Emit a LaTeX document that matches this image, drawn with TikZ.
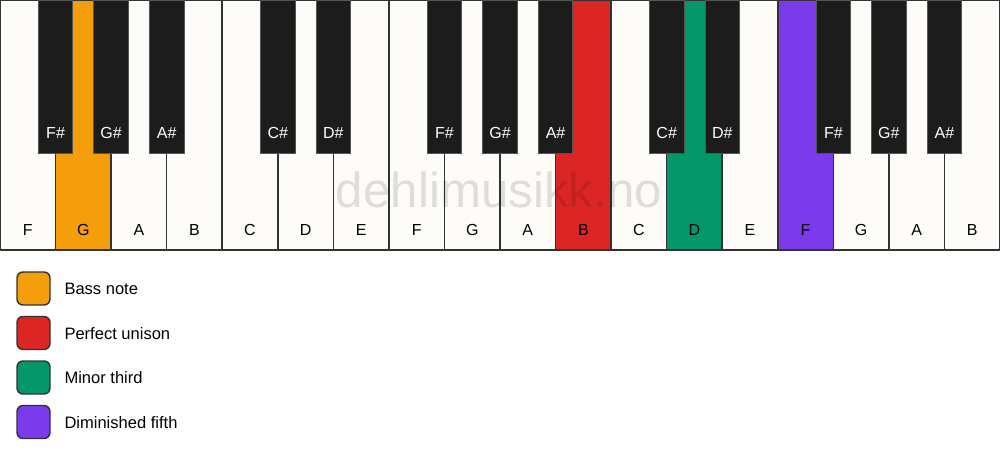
\documentclass[tikz,border=0pt]{standalone}
\usepackage{fontspec}
\setmainfont{Liberation Sans}

\definecolor{keywhite}{HTML}{FEFCF8}
\definecolor{keyblack}{HTML}{1C1C1C}
\definecolor{keyline}{HTML}{333333}
\definecolor{blackedge}{HTML}{555555}
\definecolor{bassnote}{HTML}{F59E0B}
\definecolor{unison}{HTML}{DC2626}
\definecolor{minthird}{HTML}{059669}
\definecolor{dimfifth}{HTML}{7C3AED}

\tikzset{every picture/.style={line width=0.75pt}}
\tikzset{
  whitekey/.style={draw=keyline, fill=keywhite, line width=1.1pt},
  blackkey/.style={draw=blackedge, fill=keyblack, line width=0.6pt},
  whitelabel/.style={inner sep=0.75pt, font=\fontsize{12}{14}\selectfont, text=black},
  blacklabel/.style={inner sep=0.75pt, font=\fontsize{12}{14}\selectfont, text=white},
  legendbox/.style={draw=keyline, line width=1.1pt, rounded corners=4.5pt},
  legendtext/.style={anchor=west, inner sep=0.75pt, font=\fontsize{12.4}{15}\selectfont}
}

\begin{document}
\begin{tikzpicture}[x=0.75pt,y=0.75pt,yscale=-1,xscale=1]
\path [use as bounding box, fill=white] (0,0) rectangle (1000,461);

%White keys
\draw [whitekey] (0,0) -- (55.56,0) -- (55.56,250) -- (0,250) -- cycle ;
\draw [whitekey, fill=bassnote] (55.56,0) -- (111.11,0) -- (111.11,250) -- (55.56,250) -- cycle ;
\draw [whitekey] (111.11,0) -- (166.67,0) -- (166.67,250) -- (111.11,250) -- cycle ;
\draw [whitekey] (166.67,0) -- (222.22,0) -- (222.22,250) -- (166.67,250) -- cycle ;
\draw [whitekey] (222.22,0) -- (277.78,0) -- (277.78,250) -- (222.22,250) -- cycle ;
\draw [whitekey] (277.78,0) -- (333.33,0) -- (333.33,250) -- (277.78,250) -- cycle ;
\draw [whitekey] (333.33,0) -- (388.89,0) -- (388.89,250) -- (333.33,250) -- cycle ;
\draw [whitekey] (388.89,0) -- (444.44,0) -- (444.44,250) -- (388.89,250) -- cycle ;
\draw [whitekey] (444.44,0) -- (500,0) -- (500,250) -- (444.44,250) -- cycle ;
\draw [whitekey] (500,0) -- (555.56,0) -- (555.56,250) -- (500,250) -- cycle ;
\draw [whitekey, fill=unison] (555.56,0) -- (611.11,0) -- (611.11,250) -- (555.56,250) -- cycle ;
\draw [whitekey] (611.11,0) -- (666.67,0) -- (666.67,250) -- (611.11,250) -- cycle ;
\draw [whitekey, fill=minthird] (666.67,0) -- (722.22,0) -- (722.22,250) -- (666.67,250) -- cycle ;
\draw [whitekey] (722.22,0) -- (777.78,0) -- (777.78,250) -- (722.22,250) -- cycle ;
\draw [whitekey, fill=dimfifth] (777.78,0) -- (833.33,0) -- (833.33,250) -- (777.78,250) -- cycle ;
\draw [whitekey] (833.33,0) -- (888.89,0) -- (888.89,250) -- (833.33,250) -- cycle ;
\draw [whitekey] (888.89,0) -- (944.44,0) -- (944.44,250) -- (888.89,250) -- cycle ;
\draw [whitekey] (944.44,0) -- (1000,0) -- (1000,250) -- (944.44,250) -- cycle ;

% Watermark
\draw (499,207) node [anchor=base, inner sep=0pt, text=black, text opacity=0.12, font=\fontsize{37}{40}\selectfont] (mark) {dehlimusikk.no};

%Black keys
\draw [blackkey] (38.26,0) -- (72.86,0) -- (72.86,153) -- (38.26,153) -- cycle ;
\draw [blackkey] (93.81,0) -- (128.41,0) -- (128.41,153) -- (93.81,153) -- cycle ;
\draw [blackkey] (149.37,0) -- (183.97,0) -- (183.97,153) -- (149.37,153) -- cycle ;
\draw [blackkey] (260.48,0) -- (295.08,0) -- (295.08,153) -- (260.48,153) -- cycle ;
\draw [blackkey] (316.03,0) -- (350.63,0) -- (350.63,153) -- (316.03,153) -- cycle ;
\draw [blackkey] (427.14,0) -- (461.74,0) -- (461.74,153) -- (427.14,153) -- cycle ;
\draw [blackkey] (482.70,0) -- (517.30,0) -- (517.30,153) -- (482.70,153) -- cycle ;
\draw [blackkey] (538.26,0) -- (572.86,0) -- (572.86,153) -- (538.26,153) -- cycle ;
\draw [blackkey] (649.37,0) -- (683.97,0) -- (683.97,153) -- (649.37,153) -- cycle ;
\draw [blackkey] (704.92,0) -- (739.52,0) -- (739.52,153) -- (704.92,153) -- cycle ;
\draw [blackkey] (816.03,0) -- (850.63,0) -- (850.63,153) -- (816.03,153) -- cycle ;
\draw [blackkey] (871.59,0) -- (906.19,0) -- (906.19,153) -- (871.59,153) -- cycle ;
\draw [blackkey] (927.14,0) -- (961.74,0) -- (961.74,153) -- (927.14,153) -- cycle ;

% Text Node
\draw (27.78,230) node [whitelabel] (wF1) {F};
\draw (83.33,230) node [whitelabel] (wG1) {G};
\draw (138.89,230) node [whitelabel] (wA1) {A};
\draw (194.44,230) node [whitelabel] (wB1) {B};
\draw (250,230) node [whitelabel] (wC1) {C};
\draw (305.56,230) node [whitelabel] (wD1) {D};
\draw (361.11,230) node [whitelabel] (wE1) {E};
\draw (416.67,230) node [whitelabel] (wF2) {F};
\draw (472.22,230) node [whitelabel] (wG2) {G};
\draw (527.78,230) node [whitelabel] (wA2) {A};
\draw (583.33,230) node [whitelabel] (wB2) {B};
\draw (638.89,230) node [whitelabel] (wC2) {C};
\draw (694.44,230) node [whitelabel] (wD2) {D};
\draw (750,230) node [whitelabel] (wE2) {E};
\draw (805.56,230) node [whitelabel] (wF3) {F};
\draw (861.11,230) node [whitelabel] (wG3) {G};
\draw (916.67,230) node [whitelabel] (wA3) {A};
\draw (972.22,230) node [whitelabel] (wB3) {B};
% Text Node
\draw (55.56,133) node [blacklabel] (bFs1) {F\#};
\draw (111.11,133) node [blacklabel] (bGs1) {G\#};
\draw (166.67,133) node [blacklabel] (bAs1) {A\#};
\draw (277.78,133) node [blacklabel] (bCs1) {C\#};
\draw (333.33,133) node [blacklabel] (bDs1) {D\#};
\draw (444.44,133) node [blacklabel] (bFs2) {F\#};
\draw (500,133) node [blacklabel] (bGs2) {G\#};
\draw (555.56,133) node [blacklabel] (bAs2) {A\#};
\draw (666.67,133) node [blacklabel] (bCs2) {C\#};
\draw (722.22,133) node [blacklabel] (bDs2) {D\#};
\draw (833.33,133) node [blacklabel] (bFs3) {F\#};
\draw (888.89,133) node [blacklabel] (bGs3) {G\#};
\draw (944.44,133) node [blacklabel] (bAs3) {A\#};

%Legend
\draw [legendbox, fill=bassnote] (17,272) rectangle (50,305) ;
\draw [legendbox, fill=unison] (17,316.5) rectangle (50,349.5) ;
\draw [legendbox, fill=minthird] (17,361) rectangle (50,394) ;
\draw [legendbox, fill=dimfifth] (17,405.5) rectangle (50,438.5) ;
% Text Node
\draw (63,289) node [legendtext] (lgBass) {Bass note};
\draw (63,333.5) node [legendtext] (lgUnison) {Perfect unison};
\draw (63,378) node [legendtext] (lgThird) {Minor third};
\draw (63,422.5) node [legendtext] (lgFifth) {Diminished fifth};
\end{tikzpicture}
\end{document}
